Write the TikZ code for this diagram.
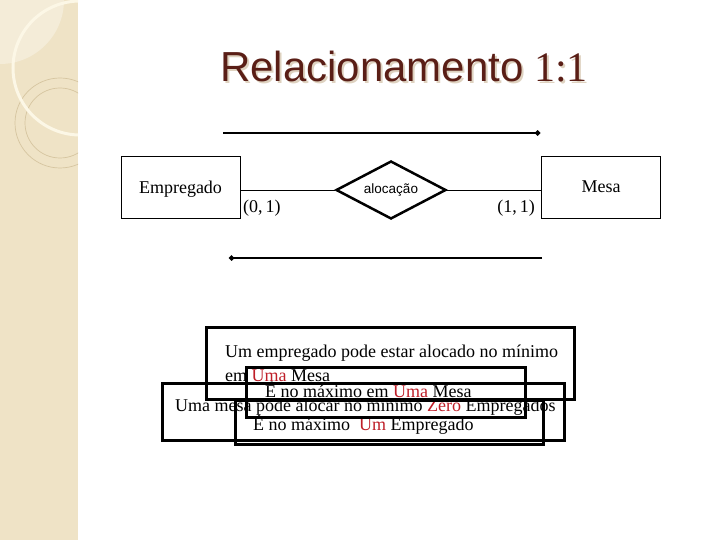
\documentclass[tikz,border=0pt]{standalone}
\usepackage{fontspec}
\setmainfont{Liberation Serif}
\newfontfamily\arialf{Liberation Sans}
\newfontfamily\timesf{Liberation Serif}
\usetikzlibrary{shapes.geometric,arrows.meta}
\definecolor{stripc}{RGB}{239,227,198}
\definecolor{striplight}{RGB}{244,236,216}
\definecolor{creamc}{RGB}{252,247,230}
\definecolor{ringc}{RGB}{214,197,160}
\definecolor{titlec}{RGB}{90,30,22}
\definecolor{shadowc}{RGB}{222,210,192}
\definecolor{redtxt}{RGB}{190,30,40}
\tikzset{
  ent/.style={draw, line width=0.8pt, minimum width=119pt, minimum height=62pt, inner sep=0pt, text depth=0pt, font=\fontsize{18}{20}\selectfont},
  relshape/.style={diamond, draw, line width=2.5pt, minimum width=110pt, minimum height=58pt, aspect=1.9, inner sep=0pt, font=\arialf\fontsize{13.5}{15}\selectfont},
  conn/.style={line width=0.8pt},
  dirline/.style={line width=2.4pt, -{Circle[length=5pt,width=5pt]}},
  card/.style={inner sep=0pt, font=\fontsize{18}{20}\selectfont},
  txt/.style={anchor=base west, inner sep=0pt, font=\fontsize{18}{21}\selectfont},
  tbox/.style={draw, line width=3pt, inner sep=0pt},
  titlefont/.style={anchor=base west, inner sep=0pt, font=\fontsize{42}{46}\selectfont}
}
\begin{document}
\begin{tikzpicture}[x=1pt,y=-1pt]
\useasboundingbox (0,0) rectangle (720,540);
% left decorative strip
\fill[stripc] (0,0) rectangle (78,540);
\begin{scope}
  \clip (0,0) rectangle (78,540);
  \fill[striplight] (0,0) circle[radius=64];
  \draw[ringc, line width=0.7pt] (60,123) circle[radius=45];
  \draw[ringc, line width=0.7pt] (60,123) circle[radius=35];
  \draw[creamc, line width=3pt] (80,68) circle[radius=67];
\end{scope}
% title
\node[titlefont, text=shadowc] at (222,84) {{\arialf Relacionamento} {\timesf 1:1}};
\node[titlefont, text=titlec] (title) at (220,82) {{\arialf Relacionamento} {\timesf 1:1}};
% ER diagram
\node[ent] (emp) at (180.5,187) {Empregado};
\node[ent] (mesa) at (601,187) {Mesa};
\node[relshape] (rel) at (391,190) {alocação};
\draw[conn] (rel.west) -- (rel.west -| emp.east);
\draw[conn] (rel.east) -- (rel.east -| mesa.west);
\node[card, anchor=base west] (c1) at (243,212) {(0,\,1)};
\node[card, anchor=base east] (c2) at (535,212) {(1,\,1)};
% direction lines
\coordinate (ta) at (223,133);
\coordinate (tb) at (540,133);
\coordinate (ba) at (542,258);
\coordinate (bb) at (229,258);
\draw[dirline] (ta) -- (tb);
\draw[dirline] (ba) -- (bb);
% texts
\node[txt] (t1) at (225,357) {Um empregado pode estar alocado no mínimo};
\node[txt] (t2) at (225,381) {em {\color{redtxt}Uma} Mesa};
\node[txt] (t3) at (265,397) {É no máximo em {\color{redtxt}Uma} Mesa};
\node[txt] (t4) at (175,411) {Uma mesa pode alocar no mínimo {\color{redtxt}Zero} Empregados};
\node[txt] (t5) at (253,430) {É no máximo~ {\color{redtxt}Um} Empregado};
% text boxes
\node[tbox, minimum width=368pt, minimum height=72pt] (bA) at (390,363) {};
\node[tbox, minimum width=279pt, minimum height=50pt] (bB) at (385.5,392) {};
\node[tbox, minimum width=402pt, minimum height=57pt] (bC) at (363,411.5) {};
\node[tbox, minimum width=308pt, minimum height=44pt] (bD) at (389,422) {};
\end{tikzpicture}
\end{document}
